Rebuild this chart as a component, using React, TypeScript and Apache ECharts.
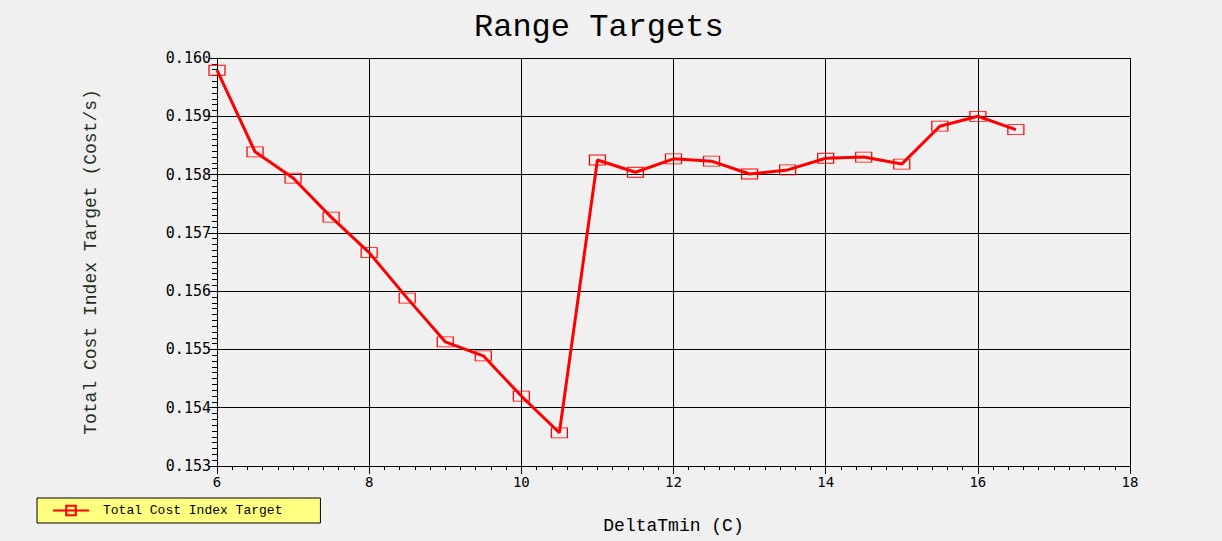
import React, { useEffect, useRef } from "react";
import * as echarts from "echarts";

const titleText = "Range Targets";
const xAxisTitle = "DeltaTmin (C)";
const yAxisTitle = "Total Cost Index Target (Cost/s)";
const seriesName = "Total Cost Index Target";

const deltaTmin = [6, 6.5, 7, 7.5, 8, 8.5, 9, 9.5, 10, 10.5, 11, 11.5, 12, 12.5, 13, 13.5, 14, 14.5, 15, 15.5, 16, 16.5];
const costIndex = [
  0.15979, 0.15839, 0.15794, 0.15727, 0.15666, 0.15588, 0.15513, 0.15489, 0.1542, 0.15357,
  0.15825, 0.15804, 0.15827, 0.15823, 0.15801, 0.15808, 0.15828, 0.1583, 0.15818, 0.15883,
  0.159, 0.15877,
];

const xMin = 6;
const xMax = 18;
const xStep = 2;
const yMin = 0.153;
const yMax = 0.16;
const yStep = 0.001;

export default function App() {
  const ref = useRef<HTMLDivElement>(null);
  useEffect(() => {
    if (!ref.current) return;
    const chart = echarts.init(ref.current, undefined, { renderer: "svg" });
    const mono = "'Liberation Mono', 'Courier New', monospace";
    const tickFont = "'DejaVu Sans Mono', monospace";
    chart.setOption({
      animation: false,
      backgroundColor: "#f0f0f0",
      title: {
        text: titleText,
        left: 469,
        top: 6,
        textStyle: { fontFamily: mono, fontSize: 32, fontWeight: "normal", color: "#000" },
      },
      legend: {
        left: 37,
        top: 498,
        orient: "horizontal",
        backgroundColor: "#ffff80",
        borderColor: "#000",
        borderWidth: 1,
        borderRadius: 0,
        padding: [6, 38, 6, 15],
        itemWidth: 36,
        itemHeight: 12,
        itemGap: 0,
        textStyle: { fontFamily: mono, fontSize: 13, color: "#000", padding: [0, 0, 0, 9] },
        data: [seriesName],
      },
      grid: { left: 217, right: 92, top: 58, bottom: 75, containLabel: false },
      xAxis: {
        type: "value",
        min: xMin,
        max: xMax,
        interval: xStep,
        name: xAxisTitle,
        nameLocation: "middle",
        nameGap: 51,
        nameTextStyle: { fontFamily: mono, fontSize: 18, color: "#000" },
        axisLine: { show: true, onZero: false, lineStyle: { color: "#000", width: 1 } },
        axisTick: { show: true, inside: false, length: 8, lineStyle: { color: "#000" } },
        minorTick: { show: true, splitNumber: 10, length: 4, lineStyle: { color: "#000" } },
        axisLabel: { fontFamily: tickFont, fontSize: 14, color: "#000", margin: 9 },
        splitLine: { show: true, lineStyle: { color: "#000", width: 1 } },
      },
      yAxis: {
        type: "value",
        min: yMin,
        max: yMax,
        interval: yStep,
        name: yAxisTitle,
        nameLocation: "middle",
        nameRotate: 90,
        nameGap: 117,
        nameTextStyle: { fontFamily: mono, fontSize: 18, color: "#1e2e1e" },
        axisLine: { show: true, lineStyle: { color: "#000", width: 1 } },
        axisTick: { show: true, inside: false, length: 9, lineStyle: { color: "#000" } },
        minorTick: { show: true, splitNumber: 10, length: 5, lineStyle: { color: "#000" } },
        axisLabel: {
          fontFamily: tickFont,
          fontSize: 15,
          color: "#000",
          margin: 6,
          formatter: (v: number) => v.toFixed(3),
        },
        splitLine: { show: true, lineStyle: { color: "#000", width: 1 } },
      },
      series: [
        {
          name: seriesName,
          type: "line",
          data: deltaTmin.map((x, i) => [x, costIndex[i]]),
          symbol: "rect",
          symbolSize: [16, 10],
          lineStyle: { color: "#ff0000", width: 3 },
          itemStyle: { color: "rgba(0,0,0,0)", borderColor: "#ff0000", borderWidth: 1 },
          emphasis: { disabled: true },
        },
      ],
    });
    return () => chart.dispose();
  }, []);
  return (
    <div
      ref={ref}
      style={{ position: "absolute", left: 0, top: 0, width: 1222, height: 541, background: "#f0f0f0" }}
    />
  );
}
